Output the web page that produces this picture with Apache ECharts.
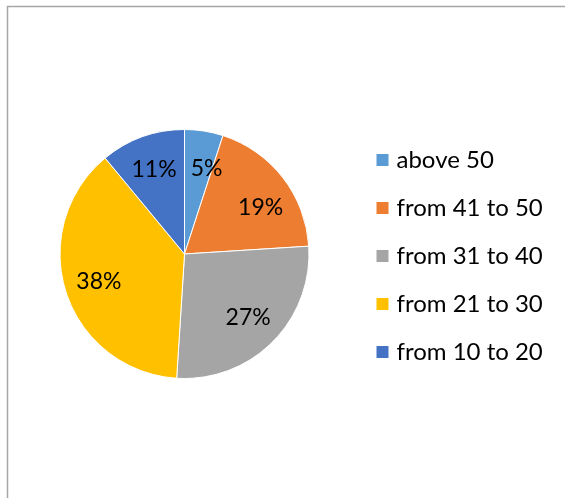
<!DOCTYPE html>
<html>
<head>
<meta charset="utf-8">
<script src="https://cdn.jsdelivr.net/npm/echarts@6/dist/echarts.min.js"></script>
<style>
  html, body { margin: 0; padding: 0; background: #fff; }
  #chart { width: 565px; height: 498px; }
</style>
</head>
<body>
<div id="chart"></div>
<script>
// Age groups and their shares (percent)
const categories = ['above 50', 'from 41 to 50', 'from 31 to 40', 'from 21 to 30', 'from 10 to 20'];
const shares = [5, 19, 27, 38, 11];
const colors = ['#5B9BD5', '#ED7D31', '#A5A5A5', '#FFC000', '#4472C4'];

const FONT = 'Lato, "Noto Sans", sans-serif';
const center = [184.5, 254];
const radius = 124.5;

// small nudges so the narrow slices' labels sit clear of the slice edges
const labelNudge = { 'above 50': [8, 3], 'from 41 to 50': [5, 9] };

const pieData = categories.map((name, i) => ({ name, value: shares[i], itemStyle: { color: colors[i] } }));

const chart = echarts.init(document.getElementById('chart'), null, { renderer: 'canvas' });
chart.setOption({
  animation: false,
  backgroundColor: '#ffffff',
  graphic: [{
    type: 'polyline',
    shape: { points: [[7.5, 600], [7.5, 6.5], [600, 6.5]] },
    style: { stroke: '#a6a6a6', lineWidth: 1.5, fill: null },
    silent: true
  }],
  legend: {
    orient: 'vertical',
    left: 369.5,
    top: 143,
    icon: 'rect',
    itemWidth: 14,
    itemHeight: 14,
    itemGap: 24,
    data: categories,
    textStyle: { fontFamily: FONT, fontSize: 24, color: '#000', lineHeight: 24, padding: [0, 0, 0, 2] }
  },
  series: [
    {
      // visible slices
      type: 'pie',
      center: center,
      radius: [0, radius],
      startAngle: 90,
      clockwise: true,
      data: pieData,
      itemStyle: { borderColor: '#ffffff', borderWidth: 1 },
      label: { show: false },
      labelLine: { show: false },
      emphasis: { disabled: true }
    },
    {
      // percentage labels, placed in a ring so they sit toward the outer edge
      type: 'pie',
      center: center,
      radius: [49.5, radius],
      startAngle: 90,
      clockwise: true,
      silent: true,
      data: pieData.map(d => ({
        name: d.name,
        value: d.value,
        itemStyle: { color: 'rgba(0,0,0,0)' },
        label: labelNudge[d.name] ? { offset: labelNudge[d.name] } : undefined
      })),
      itemStyle: { borderWidth: 0 },
      label: {
        show: true,
        position: 'inside',
        formatter: p => Math.round(p.percent) + '%',
        fontFamily: FONT,
        fontSize: 23,
        color: '#000'
      },
      labelLine: { show: false },
      emphasis: { disabled: true }
    }
  ]
});
</script>
</body>
</html>
